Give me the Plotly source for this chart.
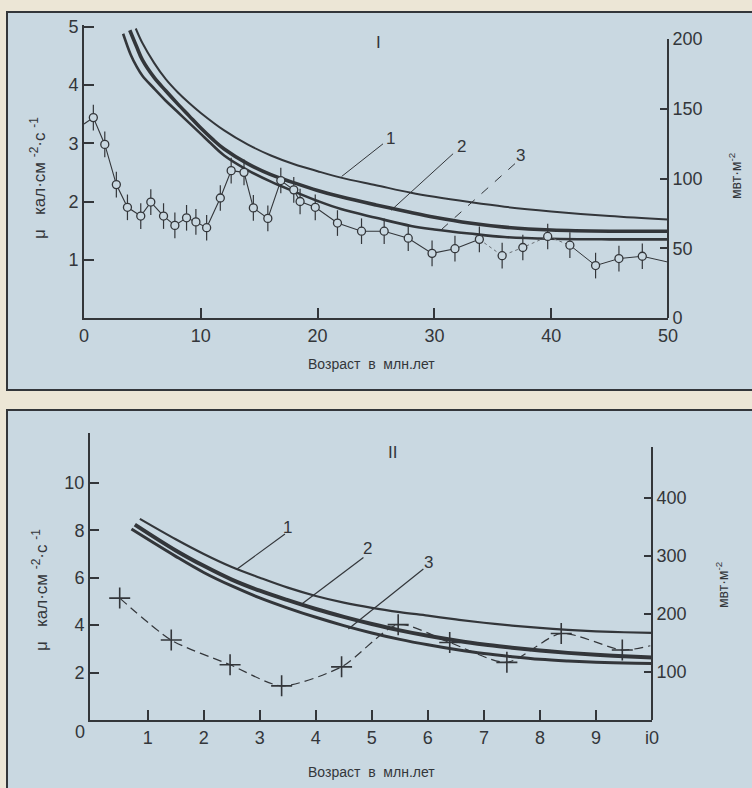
import plotly.graph_objects as go

W, H = 752, 788
BG = "#c9d8e1"
PAPER = "#ece6d6"
INK = "#33363a"
FONT = "Liberation Sans"

# ---------------- Panel I data ----------------
obs_age = [0.0, 0.8, 1.78, 2.77, 3.72, 4.86, 5.72, 6.81, 7.78, 8.78, 9.58, 10.5, 11.67, 12.6, 13.7,
           14.5, 15.74, 16.85, 17.96, 18.5, 19.8, 21.7, 23.76, 25.7, 27.76, 29.8, 31.76, 33.85,
           35.8, 37.57, 39.7, 41.6, 43.8, 45.8, 47.8, 50.0]
obs_val = [3.33, 3.44, 2.98, 2.29, 1.90, 1.75, 1.99, 1.75, 1.59, 1.72, 1.65, 1.55, 2.06, 2.53, 2.50,
           1.89, 1.71, 2.36, 2.20, 2.00, 1.90, 1.63, 1.49, 1.49, 1.37, 1.11, 1.19, 1.35,
           1.07, 1.21, 1.40, 1.25, 0.90, 1.02, 1.06, 0.96]
obs_err = [0.22] * len(obs_val)

c1_age = [4.43, 5, 6, 7, 8, 9, 10, 12, 14, 16, 18, 20, 22, 25, 28, 30, 33, 36, 40, 45, 50]
c1_val = [4.97, 4.72, 4.38, 4.10, 3.88, 3.69, 3.52, 3.22, 2.98, 2.79, 2.64, 2.52, 2.41, 2.28, 2.15,
          2.08, 1.99, 1.91, 1.83, 1.75, 1.69]
c2_age = [3.92, 4.5, 5, 6, 7, 8, 9, 10, 11, 12, 14, 16, 18, 20, 22, 25, 28, 30, 33, 36, 40, 45, 50]
c2_val = [4.94, 4.66, 4.43, 4.13, 3.90, 3.68, 3.47, 3.26, 3.07, 2.90, 2.65, 2.46, 2.32, 2.19, 2.08,
          1.94, 1.81, 1.73, 1.63, 1.56, 1.51, 1.49, 1.49]
c3_age = [3.35, 4, 4.5, 5, 6, 7, 8, 9, 10, 11, 12, 14, 16, 18, 20, 22, 25, 28, 30, 33, 36, 40, 45, 50]
c3_val = [4.88, 4.52, 4.32, 4.16, 3.94, 3.73, 3.54, 3.35, 3.16, 2.97, 2.79, 2.54, 2.34, 2.17, 2.01,
          1.87, 1.72, 1.58, 1.52, 1.45, 1.39, 1.36, 1.35, 1.35]

top_x_ticks = [0, 10, 20, 30, 40, 50]
top_y_ticks = [1, 2, 3, 4, 5]
top_y2_ticks = [0, 50, 100, 150, 200]

# ---------------- Panel II data ----------------
b_age = [0.5, 1.42, 2.47, 3.39, 4.46, 5.47, 6.39, 7.41, 8.38, 9.47, 9.97]
b_val = [5.14, 3.37, 2.33, 1.44, 2.24, 4.02, 3.27, 2.43, 3.65, 2.95, 3.13]

d1_age = [0.86, 1.5, 2, 2.5, 3, 3.5, 4, 4.5, 5, 5.5, 6, 6.5, 7, 7.5, 8, 8.5, 9, 9.5, 10]
d1_val = [8.48, 7.62, 7.00, 6.45, 6.00, 5.58, 5.23, 4.95, 4.73, 4.55, 4.40, 4.24, 4.10, 3.98, 3.88,
          3.80, 3.74, 3.70, 3.67]
d2_age = [0.77, 1.5, 2, 2.5, 3, 3.5, 4, 4.5, 5, 5.5, 6, 6.5, 7, 7.5, 8, 8.5, 9, 9.5, 10]
d2_val = [8.24, 7.15, 6.50, 5.92, 5.45, 5.05, 4.68, 4.35, 4.05, 3.78, 3.55, 3.35, 3.18, 3.05, 2.93,
          2.83, 2.75, 2.69, 2.64]
d3_age = [0.71, 1.5, 2, 2.5, 3, 3.5, 4, 4.5, 5, 5.5, 6, 6.5, 7, 7.5, 8, 8.5, 9, 9.5, 10]
d3_val = [8.05, 6.90, 6.22, 5.65, 5.15, 4.72, 4.33, 3.98, 3.67, 3.40, 3.17, 2.97, 2.80, 2.67, 2.56,
          2.49, 2.44, 2.40, 2.38]

bot_x_ticks = [1, 2, 3, 4, 5, 6, 7, 8, 9, 10]
bot_x_labels = ["1", "2", "3", "4", "5", "6", "7", "8", "9", "i0"]
bot_y_ticks = [2, 4, 6, 8, 10]
bot_y2_ticks = [100, 200, 300, 400]

Y_TITLE = "μ   кал·см <sup>-2</sup>·с <sup>-1</sup>"
Y2_TITLE = "мвт·м<sup>-2</sup>"
X_TITLE = "Возраст  в  млн.лет"


def px(x):
    return x / W


def py(y):
    return 1 - y / H


fig = go.Figure()

# --- top curves ---
for a, v, w in [(c1_age, c1_val, 2.0), (c2_age, c2_val, 3.6), (c3_age, c3_val, 2.6)]:
    fig.add_trace(go.Scatter(x=a, y=v, mode="lines", line=dict(color=INK, width=w, shape="spline", smoothing=1.0),
                             xaxis="x", yaxis="y", hoverinfo="skip"))

# observed line, split by style
i_a = obs_age.index(33.85)
i_b = obs_age.index(41.6)
fig.add_trace(go.Scatter(x=obs_age[:i_a + 1], y=obs_val[:i_a + 1], mode="lines",
                         line=dict(color=INK, width=1.1), xaxis="x", yaxis="y"))
fig.add_trace(go.Scatter(x=obs_age[i_a:i_b + 1], y=obs_val[i_a:i_b + 1], mode="lines",
                         line=dict(color="#6b7075", width=1.0, dash="dot"), xaxis="x", yaxis="y"))
fig.add_trace(go.Scatter(x=obs_age[i_b:], y=obs_val[i_b:], mode="lines",
                         line=dict(color=INK, width=1.0), xaxis="x", yaxis="y"))
fig.add_trace(go.Scatter(x=obs_age[1:-1], y=obs_val[1:-1], mode="markers",
                         marker=dict(symbol="circle", size=8, color=BG, line=dict(color=INK, width=1.3)),
                         error_y=dict(type="data", array=obs_err[1:-1], color=INK, thickness=1.2, width=0),
                         xaxis="x", yaxis="y"))

# --- bottom curves ---
for a, v, w in [(d1_age, d1_val, 2.2), (d2_age, d2_val, 4.0), (d3_age, d3_val, 3.0)]:
    fig.add_trace(go.Scatter(x=a, y=v, mode="lines", line=dict(color=INK, width=w, shape="spline", smoothing=1.0),
                             xaxis="x2", yaxis="y3", hoverinfo="skip"))
fig.add_trace(go.Scatter(x=b_age, y=b_val, mode="lines", line=dict(color=INK, width=1.2, dash="9px,5px", shape="spline", smoothing=0.7),
                         xaxis="x2", yaxis="y3"))
fig.add_trace(go.Scatter(x=b_age[:-1], y=b_val[:-1], mode="markers",
                         marker=dict(symbol="cross-thin", size=15, line=dict(color=INK, width=1.6)),
                         xaxis="x2", yaxis="y3"))

# dummy traces so the free right axes are drawn
fig.add_trace(go.Scatter(x=[None], y=[None], xaxis="x", yaxis="y2", showlegend=False))
fig.add_trace(go.Scatter(x=[None], y=[None], xaxis="x2", yaxis="y4", showlegend=False))

tickfont = dict(family=FONT, size=18, color=INK)
ax_common = dict(showgrid=False, zeroline=False, showline=True, linecolor=INK, linewidth=2,
                 ticks="inside", tickcolor=INK, tickwidth=1.5, tickfont=tickfont, fixedrange=True,
                 automargin=False)

fig.update_layout(
    width=W, height=H, margin=dict(l=0, r=0, t=0, b=0, pad=0, autoexpand=False),
    paper_bgcolor=PAPER, plot_bgcolor="rgba(0,0,0,0)", showlegend=False,
    xaxis=dict(domain=[px(84), px(668)], anchor="y", range=[0, 50], tickvals=top_x_ticks,
               ticklen=10, **ax_common),
    yaxis=dict(domain=[py(318), py(25)], anchor="x", range=[0, 5.03], tickvals=top_y_ticks,
               ticklen=10, **ax_common),
    yaxis2=dict(domain=[py(318), py(39)], anchor="free", position=px(668), side="right",
                range=[0, 200], tickvals=top_y2_ticks, ticklen=7, **ax_common),
    xaxis2=dict(domain=[px(90), px(652)], anchor="y3", range=[-0.03, 10], tickvals=bot_x_ticks,
                ticktext=bot_x_labels, ticklen=10, **ax_common),
    yaxis3=dict(domain=[py(720), py(433)], anchor="x2", range=[0, 12.1], tickvals=bot_y_ticks,
                ticklen=9, **ax_common),
    yaxis4=dict(domain=[py(720), py(447)], anchor="free", position=px(652), side="right",
                range=[17, 488], tickvals=bot_y2_ticks, ticklen=7, **ax_common),
)

shapes = [
    dict(type="rect", xref="paper", yref="paper", x0=px(7), x1=px(770), y0=py(390), y1=py(12),
         fillcolor=BG, line=dict(color=INK, width=2), layer="below"),
    dict(type="rect", xref="paper", yref="paper", x0=px(7), x1=px(770), y0=py(800), y1=py(410),
         fillcolor=BG, line=dict(color=INK, width=2), layer="below"),
    # leader lines, panel I
    dict(type="line", xref="x", yref="y", x0=25.6, y0=2.99, x1=22.06, y1=2.43, line=dict(color=INK, width=1)),
    dict(type="line", xref="x", yref="y", x0=31.6, y0=2.82, x1=26.3, y1=1.85, line=dict(color=INK, width=1)),
    dict(type="line", xref="x", yref="y", x0=36.9, y0=2.65, x1=30.5, y1=1.50, line=dict(color=INK, width=1, dash="dash")),
    # leader lines, panel II
    dict(type="line", xref="x2", yref="y3", x0=2.59, y0=6.36, x1=3.45, y1=7.84, line=dict(color=INK, width=1.2)),
    dict(type="line", xref="x2", yref="y3", x0=3.75, y0=4.89, x1=4.85, y1=6.85, line=dict(color=INK, width=1.2)),
    dict(type="line", xref="x2", yref="y3", x0=4.58, y0=3.84, x1=5.92, y1=6.37, line=dict(color=INK, width=1.2)),
]
fig.update_layout(shapes=shapes)

lab = dict(family=FONT, size=17, color=INK)
C = dict(showarrow=False, xanchor="center", yanchor="middle")
ann = [
    dict(text="I", x=25.2, y=4.73, xref="x", yref="y", font=lab, **C),
    dict(text="1", x=26.2, y=3.08, xref="x", yref="y", font=lab, **C),
    dict(text="2", x=32.3, y=2.94, xref="x", yref="y", font=lab, **C),
    dict(text="3", x=37.4, y=2.79, xref="x", yref="y", font=lab, **C),
    dict(text="II", x=5.36, y=11.26, xref="x2", yref="y3", font=lab, **C),
    dict(text="1", x=3.5, y=8.1, xref="x2", yref="y3", font=lab, **C),
    dict(text="2", x=4.92, y=7.25, xref="x2", yref="y3", font=lab, **C),
    dict(text="3", x=6.02, y=6.66, xref="x2", yref="y3", font=lab, **C),
    dict(text="0", x=px(80), y=py(732), xref="paper", yref="paper", font=tickfont, **C),
    # axis titles
    dict(text=Y_TITLE, x=px(38), y=py(178), xref="paper", yref="paper", textangle=-90,
         font=dict(family=FONT, size=17, color=INK), **C),
    dict(text=Y_TITLE, x=px(40), y=py(590), xref="paper", yref="paper", textangle=-90,
         font=dict(family=FONT, size=17, color=INK), **C),
    dict(text=Y2_TITLE, x=px(735), y=py(176), xref="paper", yref="paper", textangle=-90,
         font=dict(family=FONT, size=14, color=INK), **C),
    dict(text=Y2_TITLE, x=px(722), y=py(585), xref="paper", yref="paper", textangle=-90,
         font=dict(family=FONT, size=14, color=INK), **C),
    dict(text=X_TITLE, x=px(371), y=py(364), xref="paper", yref="paper",
         font=dict(family=FONT, size=14, color=INK), **C),
    dict(text=X_TITLE, x=px(371), y=py(772), xref="paper", yref="paper",
         font=dict(family=FONT, size=14, color=INK), **C),
]
fig.update_layout(annotations=ann)

fig.write_html("out.html")
